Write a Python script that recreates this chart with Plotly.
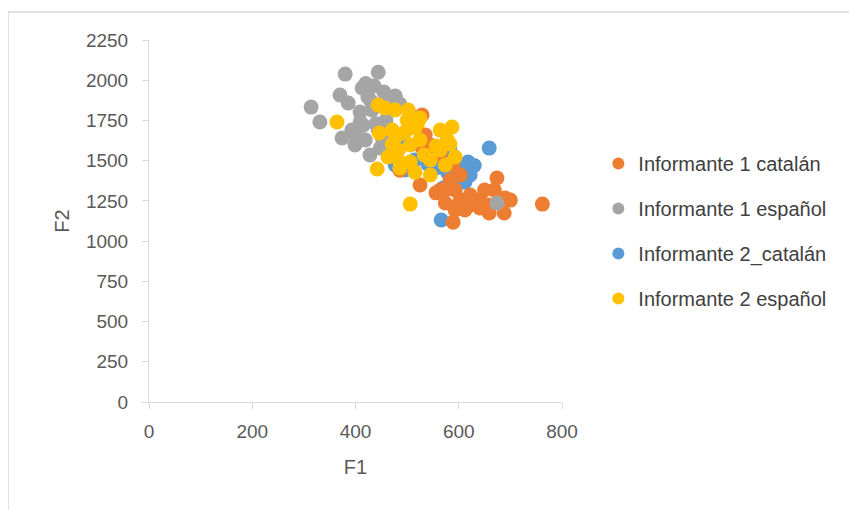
import plotly.graph_objects as go

# Informante 1 catalán (orange)
i1_cat_f1 = [762, 589, 529, 486, 525, 574, 593, 603, 622, 641, 659, 669, 690, 700, 688, 659, 641, 622, 650,
             593, 583, 589, 564, 545, 535, 603, 574, 674, 612, 564, 530, 556, 600, 615]
i1_cat_f2 = [1230, 1118, 1784, 1440, 1349, 1237, 1193, 1255, 1224, 1255, 1224, 1318, 1268, 1255, 1175, 1175,
             1206, 1287, 1318, 1318, 1380, 1473, 1535, 1597, 1660, 1411, 1318, 1392, 1193, 1318, 1580, 1300, 1230, 1250]

# Informante 1 español (gray)
i1_esp_f1 = [314, 331, 380, 444, 370, 386, 374, 393, 409, 413, 424, 436, 455, 467, 477, 486, 506, 432, 419,
             428, 448, 444, 409, 399, 459, 674, 420, 440, 400, 430, 415, 452, 470]
i1_esp_f2 = [1833, 1740, 2038, 2050, 1908, 1858, 1641, 1690, 1740, 1952, 1896, 1964, 1927, 1877, 1902, 1852,
             1784, 1815, 1628, 1535, 1579, 1690, 1802, 1597, 1753, 1237, 1980, 1730, 1660, 1870, 1720, 1640, 1820]

# Informante 2_catalán (blue)
i2_cat_f1 = [566, 659, 618, 622, 612, 603, 583, 593, 570, 564, 535, 515, 496, 477, 525, 548, 578, 556, 486,
             600, 630, 540]
i2_cat_f2 = [1131, 1578, 1492, 1411, 1367, 1442, 1566, 1504, 1330, 1535, 1566, 1504, 1442, 1473, 1597, 1516,
             1429, 1454, 1628, 1360, 1470, 1480]

# Informante 2 español (yellow)
i2_esp_f1 = [364, 442, 506, 444, 457, 477, 502, 446, 471, 483, 496, 515, 525, 525, 506, 483, 463, 486, 506,
             533, 545, 564, 583, 564, 587, 578, 593, 574, 545, 515, 486, 556, 471, 520, 500]
i2_esp_f2 = [1740, 1448, 1230, 1846, 1827, 1815, 1815, 1672, 1690, 1660, 1678, 1703, 1765, 1628, 1597, 1566,
             1523, 1492, 1492, 1535, 1504, 1566, 1603, 1690, 1709, 1628, 1523, 1473, 1411, 1429, 1454, 1591, 1603,
             1730, 1750]

x_ticks = [0, 200, 400, 600, 800]
y_ticks = [0, 250, 500, 750, 1000, 1250, 1500, 1750, 2000, 2250]

series = [
    ("Informante 2_catalán", i2_cat_f1, i2_cat_f2, "#5B9BD5", 3),
    ("Informante 1 catalán", i1_cat_f1, i1_cat_f2, "#ED7D31", 1),
    ("Informante 1 español", i1_esp_f1, i1_esp_f2, "#A5A5A5", 2),
    ("Informante 2 español", i2_esp_f1, i2_esp_f2, "#FFC000", 4),
]

fig = go.Figure()
for name, xs, ys, color, rank in series:
    fig.add_trace(go.Scatter(
        x=xs, y=ys, mode="markers", name=name,
        marker=dict(color=color, size=15, line=dict(width=0)),
        legendrank=rank, legendgroup=name,
    ))

font_family = "Liberation Sans"
L, T, PW, PH = 141, 32, 413, 362
fig.update_layout(
    width=857, height=510,
    margin=dict(l=L, r=857 - L - PW, t=T, b=510 - T - PH),
    paper_bgcolor="white", plot_bgcolor="white",
    font=dict(family=font_family, color="#595959", size=19),
    showlegend=True,
    legend=dict(x=1.088, xanchor="left", y=0.713, yanchor="top",
                font=dict(size=20, color="#404040", family=font_family),
                tracegroupgap=16, itemsizing="constant", bgcolor="rgba(0,0,0,0)"),
    xaxis=dict(range=[0, 800], tickvals=x_ticks, showgrid=False, zeroline=False,
               showline=True, linecolor="#D9D9D9", linewidth=1,
               ticks="outside", ticklen=6, tickcolor="#D9D9D9", ticklabelstandoff=6,
               title=dict(text="F1", font=dict(size=20, color="#595959"), standoff=19)),
    yaxis=dict(range=[0, 2250], tickvals=y_ticks, showgrid=False, zeroline=False,
               showline=True, linecolor="#D9D9D9", linewidth=1,
               ticks="outside", ticklen=6, tickcolor="#D9D9D9", ticklabelstandoff=10,
               title=dict(text="F2", font=dict(size=20, color="#595959"), standoff=10)),
    shapes=[dict(type="rect", xref="paper", yref="paper",
                 x0=(0 - L) / PW, x1=3.0, y0=-1.0, y1=(PH + T - 4) / PH,
                 line=dict(color="#D9D9D9", width=1.5), fillcolor="rgba(0,0,0,0)", layer="below")],
)

fig.write_html("out.html")
